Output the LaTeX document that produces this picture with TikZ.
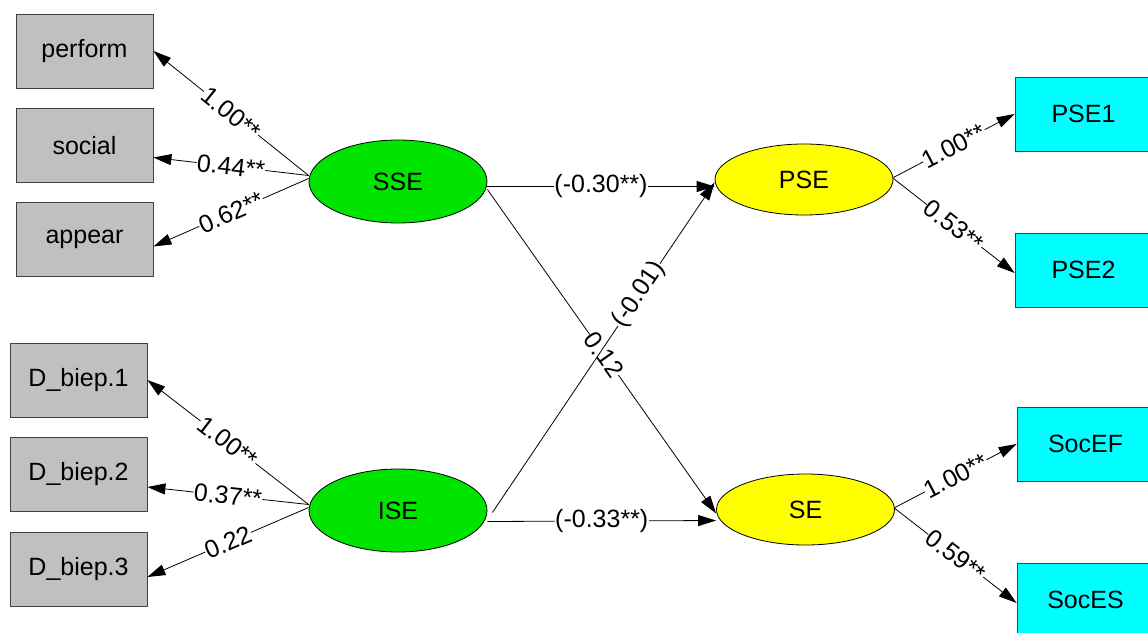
\documentclass[tikz,border=0pt]{standalone}
\usepackage{fontspec}
\setmainfont{Liberation Sans}
\usetikzlibrary{arrows.meta,shapes.geometric}
\definecolor{boxgray}{RGB}{192,192,192}
\definecolor{latgreen}{RGB}{0,228,0}
\definecolor{endoyellow}{RGB}{255,255,0}
\definecolor{obscyan}{RGB}{0,255,255}
\begin{document}
\begin{tikzpicture}[x=1pt, y=-1pt, font=\fontsize{25}{30}\selectfont,
    >={Triangle[length=18pt,width=11pt]}, line width=0.8pt,
    obs/.style={draw=black!75, fill=boxgray, minimum width=137pt, minimum height=74pt, inner sep=0pt},
    obsr/.style={obs, fill=obscyan},
    lat/.style={draw=black, ellipse, minimum width=178pt, minimum height=83pt, inner sep=0pt},
    endo/.style={lat, fill=endoyellow, minimum height=71pt},
    lbl/.style={fill=white, inner sep=0.5pt, sloped}]
  \clip (0,0) rectangle (1148,632);
  \fill[white] (0,0) rectangle (1148,632);
  \node[obs] (perform) at (84.5,51) {perform};
  \node[obs] (social) at (84.5,145.5) {social};
  \node[obs] (appear) at (84.5,239.5) {appear};
  \node[obs] (dbiep1) at (78.5,380) {D\_biep.1};
  \node[obs] (dbiep2) at (78.5,474) {D\_biep.2};
  \node[obs] (dbiep3) at (78.5,569) {D\_biep.3};
  \node[lat, fill=latgreen] (SSE) at (398,181.5) {SSE};
  \node[lat, fill=latgreen] (ISE) at (398,510.5) {ISE};
  \node[endo] (PSE) at (804,179.5) {PSE};
  \node[endo] (SE) at (805.5,509.5) {SE};
  \node[obsr] (PSE1) at (1083.5,114) {PSE1};
  \node[obsr] (PSE2) at (1083.5,270) {PSE2};
  \node[obsr] (SocEF) at (1085.5,444) {SocEF};
  \node[obsr] (SocES) at (1085.5,600) {SocES};

  \draw[->] ([yshift=6pt]SSE.west) -- node[lbl] {1.00**} (perform.east);
  \draw[->] ([yshift=6pt]SSE.west) -- node[lbl] {0.44**} ([yshift=-12pt]social.east);
  \draw[->] ([yshift=3pt]SSE.west) -- node[lbl] {0.62**} ([yshift=-7pt]appear.east);
  \draw[->] ([yshift=6pt]ISE.west) -- node[lbl] {1.00**} (dbiep1.east);
  \draw[->] ([yshift=6pt]ISE.west) -- node[lbl] {0.37**} ([yshift=-13pt]dbiep2.east);
  \draw[->] ([yshift=3pt]ISE.west) -- node[lbl] {0.22} ([yshift=-8pt]dbiep3.east);

  \draw[->] ([yshift=-5pt]SSE.east) -- node[lbl] {(-0.30**)} ([yshift=-7pt]PSE.west);
  \draw[->] ([yshift=-11pt]ISE.east) -- node[lbl] {(-0.33**)} ([yshift=-11pt]SE.west);
  \draw[->] ([yshift=-8pt]SSE.east) -- node[lbl, pos=0.51] {0.12} ([yshift=-4pt]SE.west);
  \draw[->] ([xshift=5pt,yshift=-2pt]ISE.east) -- node[lbl, pos=0.66] {(-0.01)} ([yshift=-3pt]PSE.west);

  \draw[->] ([yshift=2pt]PSE.east) -- node[lbl] {1.00**} (PSE1.west);
  \draw[->] ([yshift=1pt]PSE.east) -- node[lbl] {0.53**} ([yshift=-3pt]PSE2.west);
  \draw[->] ([yshift=2pt]SE.east) -- node[lbl] {1.00**} (SocEF.west);
  \draw[->] ([yshift=1pt]SE.east) -- node[lbl] {0.59**} ([yshift=-3pt]SocES.west);
\end{tikzpicture}
\end{document}
